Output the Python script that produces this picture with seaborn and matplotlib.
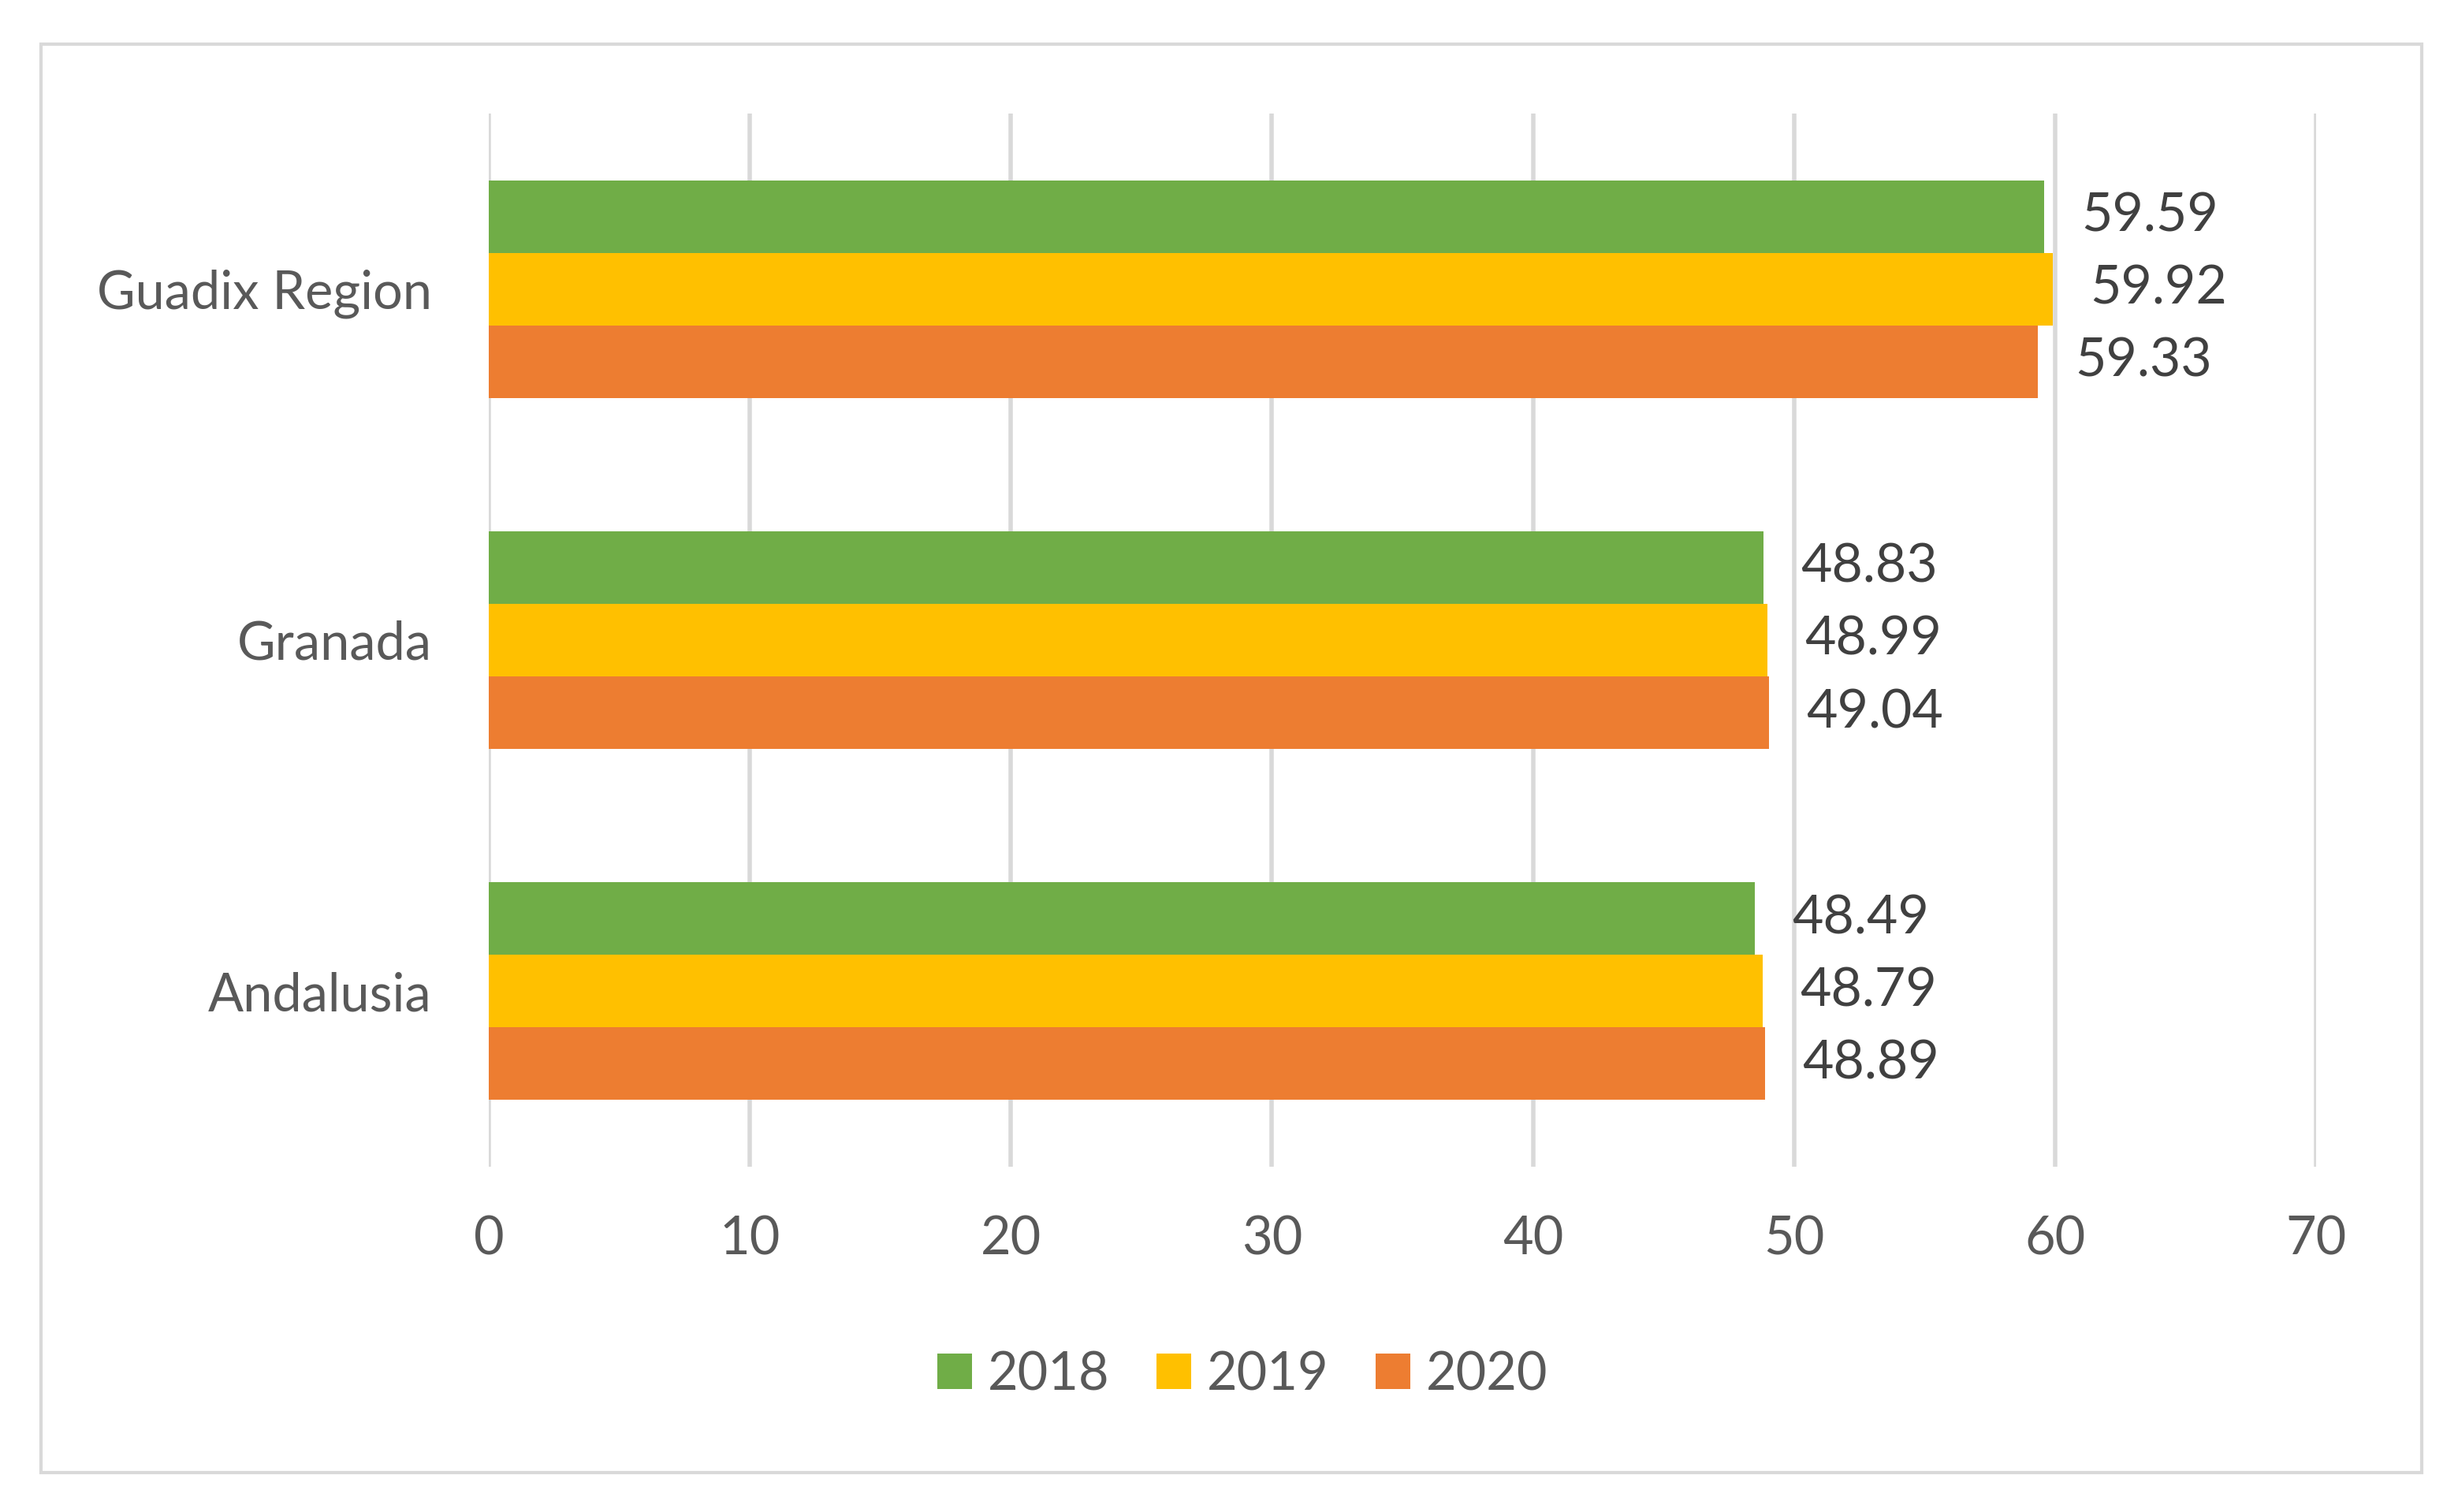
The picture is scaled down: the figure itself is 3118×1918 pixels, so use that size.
import matplotlib
matplotlib.use("Agg")
import matplotlib.pyplot as plt
from matplotlib.patches import Rectangle
import seaborn as sns
import pandas as pd

regions = ["Guadix Region", "Granada", "Andalusia"]
years = ["2018", "2019", "2020"]
val_2018 = [59.59, 48.83, 48.49]
val_2019 = [59.92, 48.99, 48.79]
val_2020 = [59.33, 49.04, 48.89]
x_ticks = [0, 10, 20, 30, 40, 50, 60, 70]
colors = ["#70AD47", "#FFC000", "#ED7D31"]

df = pd.DataFrame({
    "Region": regions * 3,
    "Year": [y for y in years for _ in regions],
    "Value": val_2018 + val_2019 + val_2020,
})

sns.set_theme(style="white")
plt.rcParams["font.family"] = ["Lato", "DejaVu Sans"]

W, H = 3118, 1918
fig = plt.figure(figsize=(W / 200, H / 200), dpi=200)
ax = fig.add_axes([620 / W, 1 - 1480 / H, (2938 - 620) / W, (1480 - 144) / H])

sns.barplot(data=df, y="Region", x="Value", hue="Year", order=regions,
            hue_order=years, palette=colors, orient="h", width=0.62,
            gap=0, saturation=1, ax=ax, legend=True, linewidth=0)

ax.set_xlim(0, 70)
ax.set_ylim(2.5, -0.5)
ax.set_xticks(x_ticks)
ax.set_xticklabels([str(t) for t in x_ticks])
ax.xaxis.grid(True, color="#D9D9D9", linewidth=2.0)
ax.set_axisbelow(True)
for s in ax.spines.values():
    s.set_visible(False)
ax.tick_params(axis="both", length=0, labelsize=24, colors="#595959")
ax.tick_params(axis="x", pad=22)
ax.tick_params(axis="y", pad=26)
ax.set_xlabel("")
ax.set_ylabel("")

# value labels to the right of each bar
for cont in ax.containers:
    for bar in cont:
        w = bar.get_width()
        ax.annotate(f"{w:.2f}", (w, bar.get_y() + bar.get_height() / 2),
                    xytext=(17, 0), textcoords="offset points",
                    ha="left", va="center", fontsize=24.5, color="#404040")

handles, labels = ax.get_legend_handles_labels()
ax.get_legend().remove()
fig.legend(handles, labels, loc="center", bbox_to_anchor=(0.5055, 1 - 1744 / H),
           ncol=3, frameon=False, fontsize=24, labelcolor="#595959",
           handlelength=0.65, handleheight=0.65, handletextpad=0.3,
           columnspacing=0.9)

fig.patches.append(Rectangle((52 / W, 1 - 1868 / H), (3072 - 52) / W, (1868 - 56) / H,
                             transform=fig.transFigure, fill=False,
                             edgecolor="#D9D9D9", linewidth=1.5))

fig.savefig("out.png", dpi=200, facecolor="white")
